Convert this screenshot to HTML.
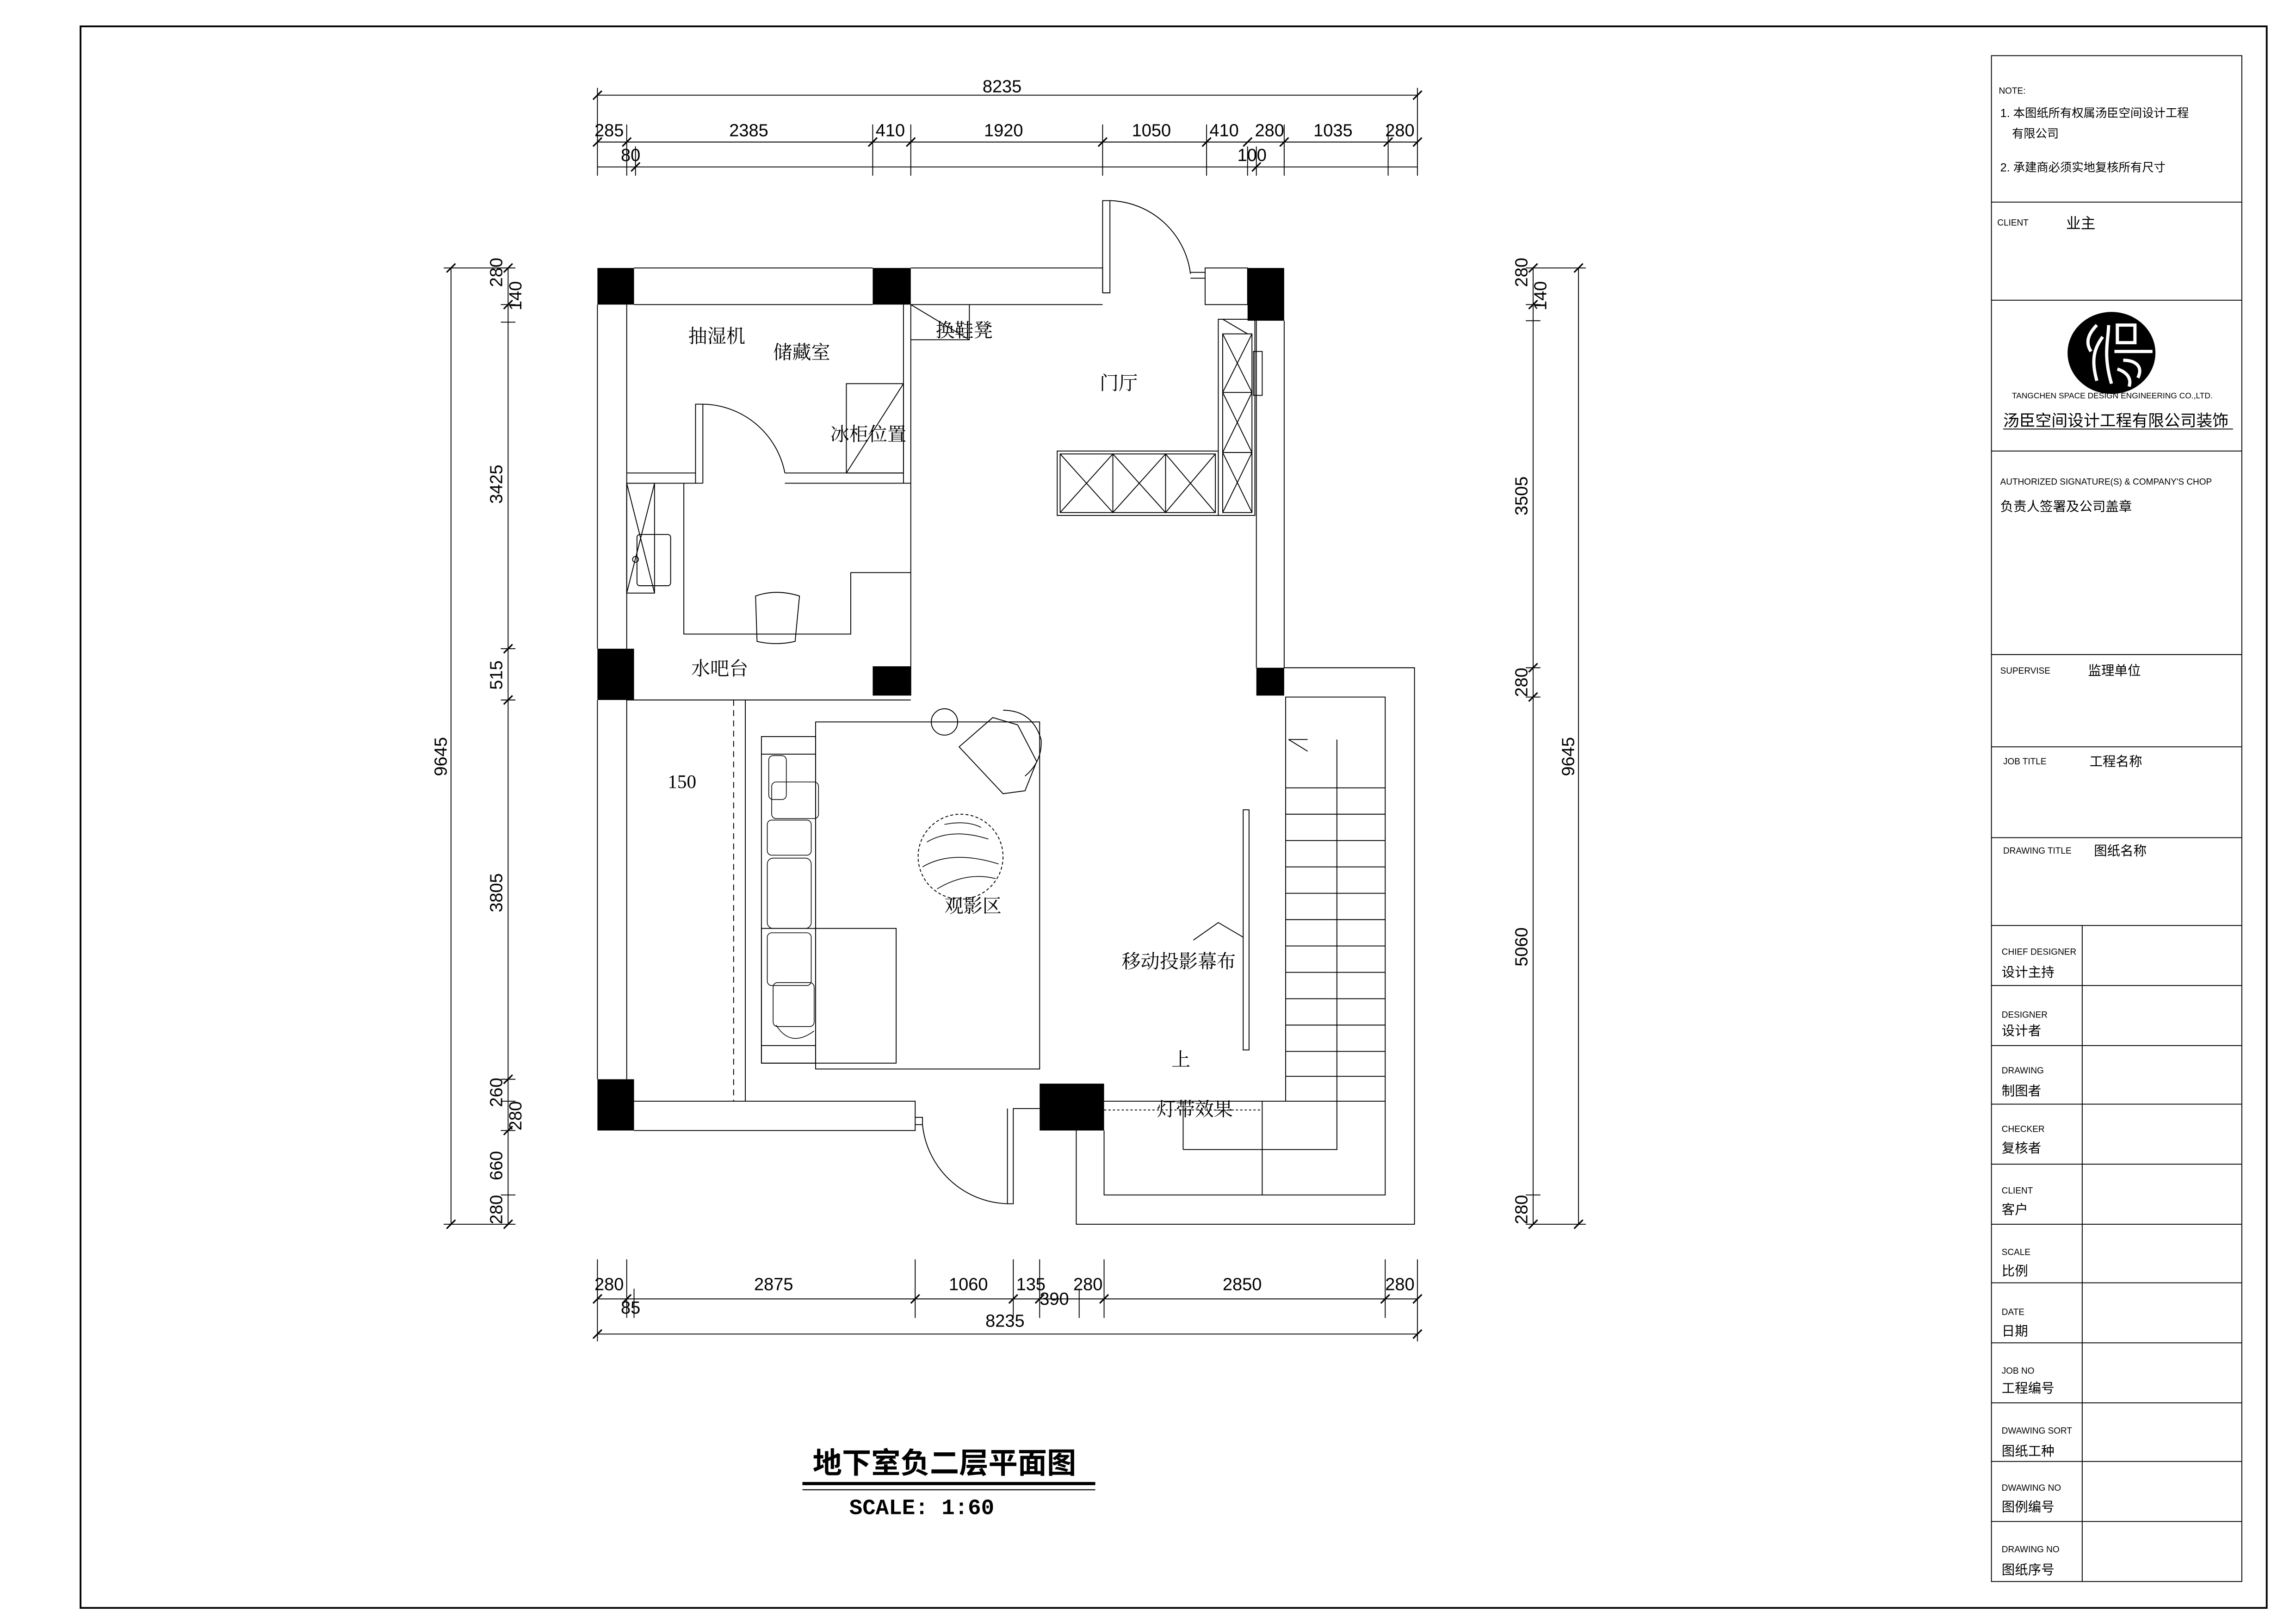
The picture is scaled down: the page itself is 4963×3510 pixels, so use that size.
<!DOCTYPE html>
<html><head><meta charset="utf-8"><style>
html,body{margin:0;padding:0;background:#fff;}
svg{display:block;}
text{font-family:"Liberation Serif","Noto Serif CJK SC",serif;fill:#000;}
.s text,text.s{font-family:"Liberation Sans","Noto Sans CJK SC",sans-serif;}
.d text{font-family:"Liberation Sans",sans-serif;font-size:12px;}
text.m{font-family:"Liberation Mono",monospace;}
</style></head><body>
<svg width="4963" height="3510" viewBox="0 0 1568 1109" preserveAspectRatio="none" xmlns="http://www.w3.org/2000/svg">
<g fill="none" stroke="#000" stroke-width="0.6">
<rect x="55" y="18" width="1493" height="1080" stroke-width="1.2"/>
<rect x="1360" y="38" width="171" height="1042"/>
<path d="M1360 138H1531M1360 205H1531M1360 308H1531M1360 447H1531M1360 510H1531M1360 572H1531M1360 632H1531M1360 673H1531M1360 714H1531M1360 754H1531M1360 795H1531M1360 836H1531M1360 876H1531M1360 917H1531M1360 958H1531M1360 998H1531M1360 1039H1531M1422 632V1080"/>
<path d="M1368 293H1525"/>
</g>
<ellipse cx="1442" cy="241" rx="30" ry="28" fill="#000"/>
<g fill="none" stroke="#fff" stroke-width="2.2">
<path d="M1432 222c-6 6-8 12-4 18M1436 230c-6 8-8 16-4 30M1440 222c0 10-4 20 2 40"/>
<rect x="1446" y="222" width="12" height="12"/>
<path d="M1444 240h26M1450 246c8 0 14 4 10 12M1446 252c6 2 10 6 8 12"/>
</g>
<g class="s" font-size="6">
<text x="1365" y="64">NOTE:</text>
<text x="1366" y="80" font-size="8">1. 本图纸所有权属汤臣空间设计工程</text>
<text x="1374" y="94" font-size="8">有限公司</text>
<text x="1366" y="117" font-size="8">2. 承建商必须实地复核所有尺寸</text>
<text x="1364" y="154">CLIENT</text>
<text x="1411" y="156" font-size="10">业主</text>
<text x="1374" y="272" font-size="5.5">TANGCHEN SPACE DESIGN ENGINEERING CO.,LTD.</text>
<text x="1368" y="291" font-size="11">汤臣空间设计工程有限公司装饰</text>
<text x="1366" y="331">AUTHORIZED SIGNATURE(S) &amp; COMPANY'S CHOP</text>
<text x="1366" y="349" font-size="9">负责人签署及公司盖章</text>
<text x="1366" y="460">SUPERVISE</text><text x="1426" y="461" font-size="9">监理单位</text>
<text x="1368" y="522">JOB TITLE</text><text x="1427" y="523" font-size="9">工程名称</text>
<text x="1368" y="583">DRAWING TITLE</text><text x="1430" y="584" font-size="9">图纸名称</text>
<text x="1367" y="652">CHIEF DESIGNER</text><text x="1367" y="667" font-size="9">设计主持</text>
<text x="1367" y="695">DESIGNER</text><text x="1367" y="707" font-size="9">设计者</text>
<text x="1367" y="733">DRAWING</text><text x="1367" y="748" font-size="9">制图者</text>
<text x="1367" y="773">CHECKER</text><text x="1367" y="787" font-size="9">复核者</text>
<text x="1367" y="815">CLIENT</text><text x="1367" y="829" font-size="9">客户</text>
<text x="1367" y="857">SCALE</text><text x="1367" y="871" font-size="9">比例</text>
<text x="1367" y="898">DATE</text><text x="1367" y="912" font-size="9">日期</text>
<text x="1367" y="938">JOB NO</text><text x="1367" y="951" font-size="9">工程编号</text>
<text x="1367" y="979">DWAWING SORT</text><text x="1367" y="994" font-size="9">图纸工种</text>
<text x="1367" y="1018">DWAWING NO</text><text x="1367" y="1032" font-size="9">图例编号</text>
<text x="1367" y="1060">DRAWING NO</text><text x="1367" y="1075" font-size="9">图纸序号</text>
</g>
<g fill="#000">
<rect x="408" y="183" width="25" height="25"/>
<rect x="596" y="183" width="26" height="25"/>
<rect x="852" y="183" width="25" height="36"/>
<rect x="408" y="443" width="25" height="35"/>
<rect x="596" y="455" width="26" height="20"/>
<rect x="858" y="456" width="19" height="19"/>
<rect x="408" y="737" width="25" height="35"/>
<rect x="710" y="740" width="44" height="32"/>
</g>
<g fill="none" stroke="#000" stroke-width="0.6">
<path d="M433 183H596M622 183H753V200M433 208H596M622 208H753"/>
<path d="M753 200V137H758V200H753"/>
<path d="M758 137A57 57 0 0 1 813 187"/>
<path d="M813 186H823M813 190H823"/>
<rect x="823" y="183" width="29" height="25"/>
<path d="M408 208V443M428 208V443M408 478V737M428 478V737M877 219V456M858 219V456"/>
<path d="M617 208V330H622M536 323H617M536 330H622M622 208V475"/>
<path d="M428 323H475M428 330H480M475 330V276H480V330M480 276A58 58 0 0 1 536 323"/>
<rect x="578" y="262" width="39" height="61"/>
<path d="M578 323L617 262"/>
<path d="M622 232H662V208M622 208L662 232"/>
<rect x="722" y="308" width="110" height="44"/><rect x="724" y="310" width="106" height="40"/>
<path d="M724 310L760 350L796 310L830 350M724 350L760 310L796 350L830 310M760 310V350M796 310V350"/>
<rect x="832" y="218" width="25" height="134"/>
<rect x="835" y="228" width="20" height="122"/>
<path d="M835 268H855M835 309H855M835 228L855 268L835 309L855 350M855 228L835 268L855 309L835 350M835 218L852 228"/>
<rect x="856" y="240" width="6" height="30"/>
<rect x="428" y="330" width="19" height="75"/>
<path d="M428 330L447 405M447 330L428 405"/>
<rect x="435" y="365" width="23" height="35" rx="2"/>
<circle cx="434" cy="382" r="2"/>
<path d="M467 330V433H581V391H622M428 478H622"/>
<path d="M516 407Q530 402 546 407L543 438Q530 441 517 438Z"/>
<path d="M509 478V752"/>
<path d="M501 478V752" stroke-dasharray="4 3"/>
<path d="M433 752H625V772H433M625 763H630V768H625M630 768A60 60 0 0 0 688 822M688 757V822H692V757H710"/>
<rect x="557" y="493" width="153" height="237"/>
<rect x="520" y="503" width="37" height="223"/>
<path d="M520 515H557M520 714H557"/>
<rect x="520" y="634" width="92" height="92"/>
<g stroke-width="0.5">
<rect x="525" y="516" width="12" height="30" rx="3"/>
<rect x="527" y="534" width="32" height="25" rx="3"/>
<rect x="524" y="560" width="30" height="24" rx="3"/>
<rect x="524" y="586" width="30" height="48" rx="4"/>
<rect x="524" y="637" width="30" height="36" rx="3"/>
<rect x="528" y="671" width="28" height="30" rx="3"/>
<path d="M530 700Q540 716 556 704"/>
</g>
<circle cx="645" cy="493" r="9"/>
<path d="M655 510L678 490L695 495L708 520L700 540L685 542Z M685 485Q705 485 711 505Q712 520 700 530"/>
<circle cx="656" cy="585" r="29" stroke-dasharray="2 1.5"/>
<path d="M633 575Q650 565 675 573M630 592Q650 580 682 590M640 607Q660 595 680 600M645 563Q660 560 670 565" stroke-width="0.5"/>
<rect x="849" y="553" width="4" height="164"/>
<path d="M815 642L832 630L849 640"/>
<path d="M735 772V836H966V456H877M754 772V816H946V476H878V752"/>
<path d="M754 752H878M878 752H946M862 752V816M808 785H913V505M880 505H893M880 505L893 513M808 752V785"/>
<path d="M754 758H862" stroke-dasharray="1.5 1.5"/>
<path d="M878 538H946M878 556H946M878 574H946M878 592H946M878 610H946M878 628H946M878 646H946M878 664H946M878 682H946M878 700H946M878 718H946M878 735H946"/>
<path d="M408 65H968M408 97H968M408 114H968M408 60V120M968 60V120M428 85V120M434 100V120M596 85V120M622 85V120M753 85V120M824 85V120M852 100V120M858 100V120M877 85V120M948 85V120"/>
<path d="M347 183V836M308 183V836M303 183H352M303 836H352M342 208H352M342 220H352M342 443H352M342 478H352M342 737H352M342 752H352M342 772H352M342 816H352"/>
<path d="M1047 183V836M1078 183V836M1042 183H1083M1042 836H1083M1042 208H1052M1042 219H1052M1042 456H1052M1042 476H1052M1042 816H1052"/>
<path d="M408 887H968M408 911H968M408 860V916M968 860V916M428 860V900M433 880V900M625 860V900M692 860V900M710 860V900M737 880V900M754 860V900M946 860V900"/>
</g>
<g stroke="#000" stroke-width="1">
<path d="M405 68L411 62M405 100L411 94M965 68L971 62M965 100L971 94M425 100L431 94M593 100L599 94M619 100L625 94M750 100L756 94M821 100L827 94M849 100L855 94M874 100L880 94M945 100L951 94M431 117L437 111M855 117L861 111"/>
<path d="M344 186L350 180M344 211L350 205M344 446L350 440M344 481L350 475M344 740L350 734M344 775L350 769M344 839L350 833M305 186L311 180M305 839L311 833"/>
<path d="M1044 186L1050 180M1044 211L1050 205M1044 459L1050 453M1044 479L1050 473M1044 839L1050 833M1075 186L1081 180M1075 839L1081 833"/>
<path d="M405 890L411 884M425 890L431 884M622 890L628 884M689 890L695 884M707 890L713 884M751 890L757 884M943 890L949 884M965 890L971 884M405 914L411 908M965 914L971 908"/>
</g>
<g class="d" fill="#000">
<text x="671" y="63">8235</text>
<text x="406" y="93">285</text><text x="498" y="93">2385</text><text x="598" y="93">410</text><text x="672" y="93">1920</text><text x="773" y="93">1050</text><text x="826" y="93">410</text><text x="857" y="93">280</text><text x="897" y="93">1035</text><text x="946" y="93">280</text>
<text x="424" y="110">80</text><text x="845" y="110">100</text>
<text x="406" y="881">280</text><text x="515" y="881">2875</text><text x="648" y="881">1060</text><text x="694" y="881">135</text><text x="733" y="881">280</text><text x="835" y="881">2850</text><text x="946" y="881">280</text>
<text x="424" y="897">85</text><text x="710" y="891">390</text>
<text x="673" y="906">8235</text>
<g transform="rotate(-90)">
<text x="-530" y="305">9645</text>
<text x="-196" y="343">280</text><text x="-212" y="356">140</text><text x="-344" y="343">3425</text><text x="-471" y="343">515</text><text x="-623" y="343">3805</text><text x="-756" y="343">260</text><text x="-772" y="356">280</text><text x="-806" y="343">660</text><text x="-836" y="343">280</text>
<text x="-530" y="1075">9645</text>
<text x="-196" y="1043">280</text><text x="-212" y="1056">140</text><text x="-352" y="1043">3505</text><text x="-476" y="1043">280</text><text x="-660" y="1043">5060</text><text x="-836" y="1043">280</text>
</g>
</g>
<g font-size="13">
<text x="470" y="234">抽湿机</text>
<text x="528" y="245">储藏室</text>
<text x="567" y="301">冰柜位置</text>
<text x="639" y="230">换鞋凳</text>
<text x="751" y="266">门厅</text>
<text x="472" y="461">水吧台</text>
<text x="456" y="538">150</text>
<text x="645" y="623">观影区</text>
<text x="766" y="661">移动投影幕布</text>
<text x="800" y="728">上</text>
<text x="790" y="762">灯带效果</text>
</g>
<text x="555" y="1006" class="s" font-size="20" font-weight="bold">地下室负二层平面图</text>
<rect x="548" y="1012" width="200" height="2.2" fill="#000"/>
<rect x="548" y="1017" width="200" height="0.7" fill="#000"/>
<text x="580" y="1034" class="m" font-size="15" font-weight="bold">SCALE: 1:60</text>
</svg>
</body></html>
